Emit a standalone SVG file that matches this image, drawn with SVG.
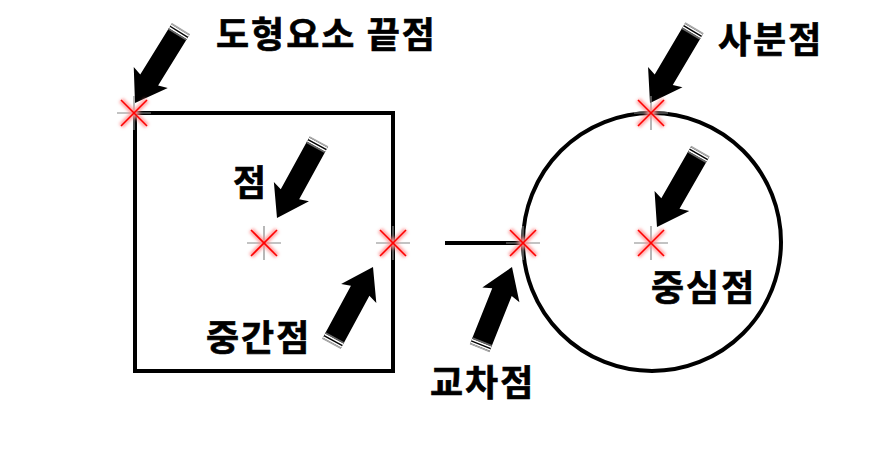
<svg xmlns="http://www.w3.org/2000/svg" xmlns:xlink="http://www.w3.org/1999/xlink" width="886" height="468" viewBox="0 0 886 468">
<style>
.shape{fill:none;stroke:#000;stroke-width:4}
.lbl{font-family:"Noto Sans CJK KR","Noto Sans CJK SC",sans-serif;font-weight:bold;font-size:36px;fill:#000;letter-spacing:2px;stroke:#000;stroke-width:0.6}
.plus{stroke:#888;stroke-width:1.2}
.glow{stroke:#ff8c8c;stroke-width:6;opacity:0.75}
.xr{stroke:#ff0000;stroke-width:1.6}
</style>
<defs>
<filter id="blur" x="-50%" y="-50%" width="200%" height="200%"><feGaussianBlur stdDeviation="1.4"/></filter>
<g id="pt">
<line class="plus" x1="-17" y1="0" x2="17" y2="0"/>
<line class="plus" x1="0" y1="-17" x2="0" y2="17"/>
<g filter="url(#blur)"><line class="glow" x1="-13" y1="-13" x2="13" y2="13"/><line class="glow" x1="-13" y1="13" x2="13" y2="-13"/></g>
<line class="xr" x1="-13" y1="-13" x2="13" y2="13"/>
<line class="xr" x1="-13" y1="13" x2="13" y2="-13"/>
</g>
<g id="arrow">
<polygon points="0,0 -30,-20 -27,-10.5 -87,-10.5 -87,10.5 -27,10.5 -30,20" fill="#000"/>
<rect x="-83" y="-10.5" width="1.6" height="21" fill="#fff"/>
<rect x="-81.4" y="-10.5" width="1.6" height="21" fill="#666"/>
<rect x="-86" y="-10.5" width="1.6" height="21" fill="#fff"/>
<rect x="-87.5" y="-10.5" width="1.6" height="21" fill="#aaa"/>
</g>
</defs>
<rect width="886" height="468" fill="#fff"/>
<g id="rectangle"><rect class="shape" x="135" y="113" width="258" height="258"/></g>
<g id="circle"><circle class="shape" cx="652" cy="242" r="129"/></g>
<g id="connectors">
<line class="shape" x1="445" y1="243" x2="523" y2="243"/>
<use xlink:href="#arrow" transform="translate(135,103) rotate(121.7)"/>
<use xlink:href="#arrow" transform="translate(650,103) rotate(120.6)"/>
<use xlink:href="#arrow" transform="translate(657,227) rotate(119.8)"/>
<use xlink:href="#arrow" transform="translate(277,218) rotate(118.7)"/>
<use xlink:href="#arrow" transform="translate(373,267) rotate(-61.6)"/>
<use xlink:href="#arrow" transform="translate(512,267) rotate(-68.2)"/>
</g>
<g id="points">
<use xlink:href="#pt" x="134" y="113"/>
<use xlink:href="#pt" x="264" y="243"/>
<use xlink:href="#pt" x="393" y="243"/>
<use xlink:href="#pt" x="523" y="243"/>
<use xlink:href="#pt" x="651" y="113"/>
<use xlink:href="#pt" x="651" y="243"/>
</g>
<g id="labels">
<text class="lbl" x="216" y="48">도형요소 끝점</text>
<text class="lbl" x="718" y="53">사분점</text>
<text class="lbl" x="233" y="196">점</text>
<text class="lbl" x="206" y="351">중간점</text>
<text class="lbl" x="430" y="396">교차점</text>
<text class="lbl" x="651" y="301">중심점</text>
</g>
</svg>
